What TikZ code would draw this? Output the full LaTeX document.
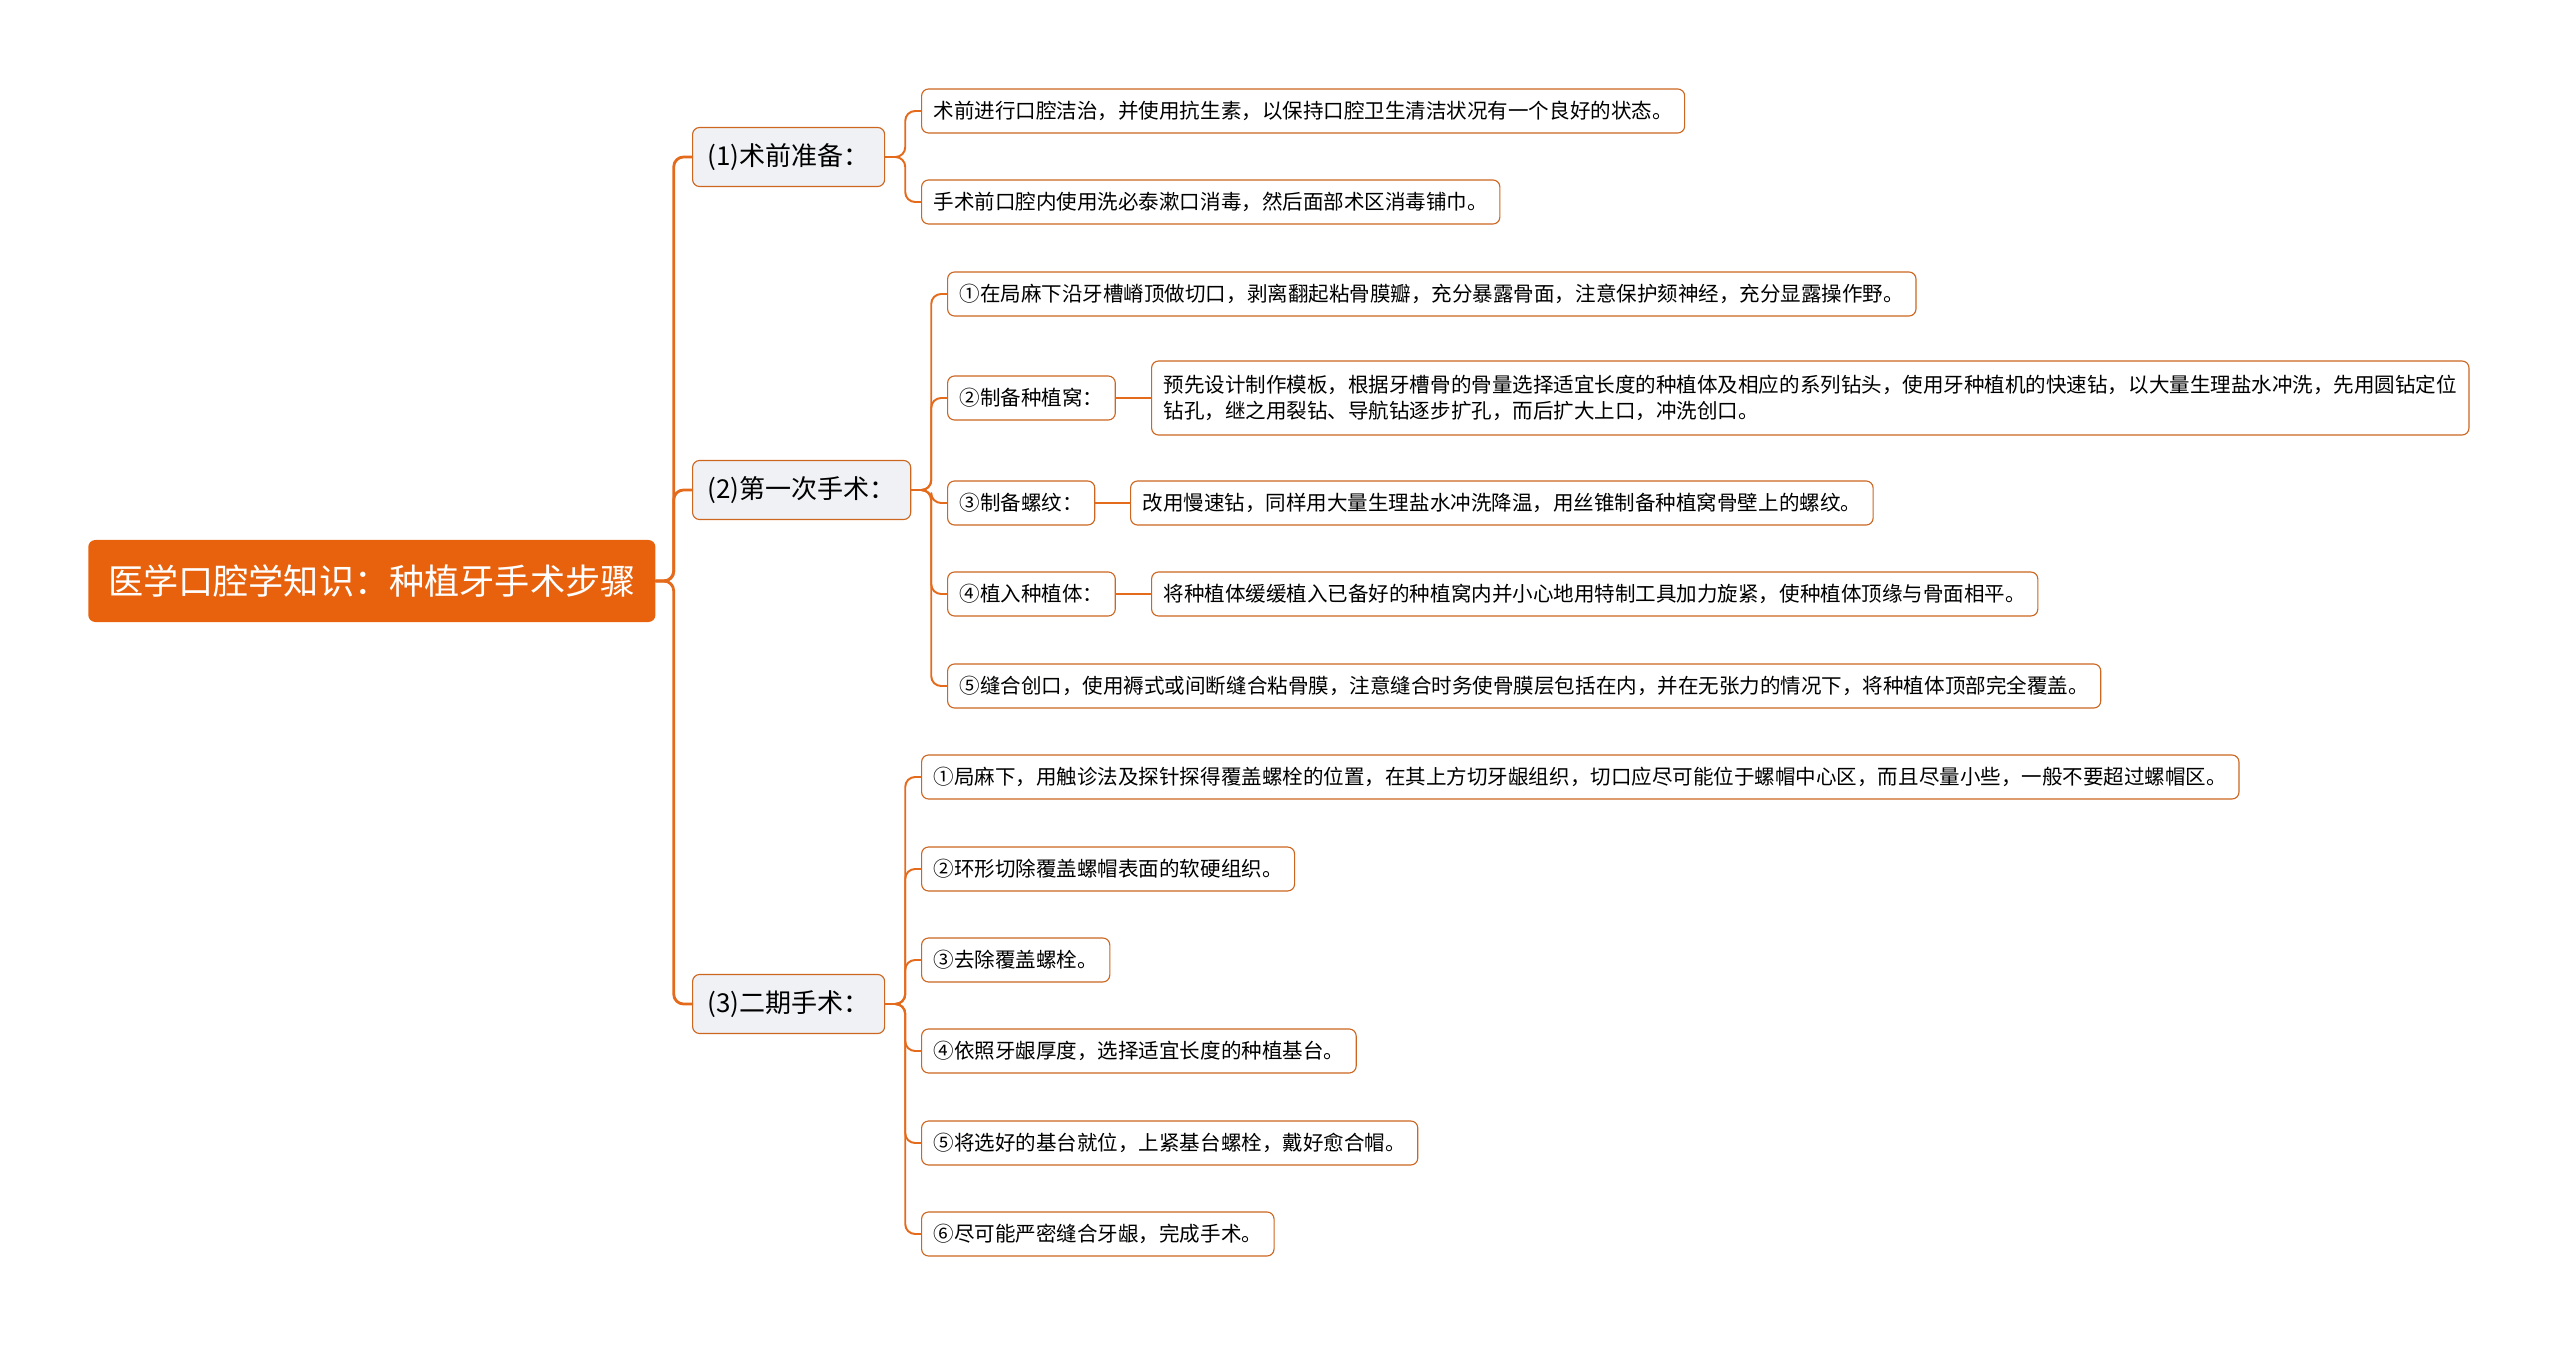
\documentclass[tikz,border=0pt]{standalone}
\usepackage{fontspec}
\setmainfont{Noto Sans CJK SC}
\definecolor{rootfill}{HTML}{E8620E}
\definecolor{linkcol}{HTML}{E46A1C}
\definecolor{boxline}{HTML}{CC6620}
\definecolor{stagefill}{HTML}{EFF1F4}
\begin{document}
\begin{tikzpicture}[x=0.025cm,y=-0.025cm,line join=round,line cap=round,
	rootbox/.style={anchor=west,fill=rootfill,rounded corners=5pt,text=white,minimum width=14.175cm,minimum height=2.05cm,font=\fontsize{25}{30}\selectfont},
	stage/.style={anchor=west,draw=boxline,line width=0.8pt,fill=stagefill,rounded corners=5pt,minimum height=1.475cm,inner xsep=0.375cm,font=\fontsize{18.5}{22}\selectfont},
	leaf/.style={anchor=west,draw=boxline,line width=0.8pt,fill=white,rounded corners=5pt,minimum height=1.1cm,inner xsep=0.3cm,align=left,font=\fontsize{14.6}{18.5}\selectfont},
	link/.style={draw=linkcol,line width=2pt,rounded corners=7pt},
	twig/.style={draw=linkcol,line width=1.4pt,rounded corners=7pt}]
	\useasboundingbox (0,0) rectangle (2560,1345);
	% root and stages
	\node[rootbox] (root) at (88,581) {医学口腔学知识：种植牙手术步骤};
	\node[stage] (pre) at (692,157) {(1)术前准备：};
	\node[stage] (first) at (692,490) {(2)第一次手术：};
	\node[stage] (second) at (692,1004) {(3)二期手术：};
	\foreach \s in {pre,first,second}
		\draw[link] (root.east) -- ++(18,0) |- (\s.west);
	% (1)
	\node[leaf] (pre1) at (921,111) {术前进行口腔洁治，并使用抗生素，以保持口腔卫生清洁状况有一个良好的状态。};
	\node[leaf] (pre2) at (921,202) {手术前口腔内使用洗必泰漱口消毒，然后面部术区消毒铺巾。};
	\foreach \c in {pre1,pre2}
		\draw[twig] (pre.east) -- ++(20,0) |- (\c.west);
	% (2)
	\node[leaf] (first1) at (947,294) {①在局麻下沿牙槽嵴顶做切口，剥离翻起粘骨膜瓣，充分暴露骨面，注意保护颏神经，充分显露操作野。};
	\node[leaf] (first2) at (947,398) {②制备种植窝：};
	\node[leaf,minimum height=1.85cm] (first2d) at (1151,398) {预先设计制作模板，根据牙槽骨的骨量选择适宜长度的种植体及相应的系列钻头，使用牙种植机的快速钻，以大量生理盐水冲洗，先用圆钻定位\\钻孔，继之用裂钻、导航钻逐步扩孔，而后扩大上口，冲洗创口。};
	\node[leaf] (first3) at (947,503) {③制备螺纹：};
	\node[leaf] (first3d) at (1130,503) {改用慢速钻，同样用大量生理盐水冲洗降温，用丝锥制备种植窝骨壁上的螺纹。};
	\node[leaf] (first4) at (947,594) {④植入种植体：};
	\node[leaf] (first4d) at (1151,594) {将种植体缓缓植入已备好的种植窝内并小心地用特制工具加力旋紧，使种植体顶缘与骨面相平。};
	\node[leaf] (first5) at (947,686) {⑤缝合创口，使用褥式或间断缝合粘骨膜，注意缝合时务使骨膜层包括在内，并在无张力的情况下，将种植体顶部完全覆盖。};
	\foreach \c in {first1,first2,first3,first4,first5}
		\draw[twig] (first.east) -- ++(20,0) |- (\c.west);
	\foreach \c in {first2,first3,first4}
		\draw[twig] (\c.east) -- (\c d.west);
	% (3)
	\node[leaf] (second1) at (921,777) {①局麻下，用触诊法及探针探得覆盖螺栓的位置，在其上方切牙龈组织，切口应尽可能位于螺帽中心区，而且尽量小些，一般不要超过螺帽区。};
	\node[leaf] (second2) at (921,869) {②环形切除覆盖螺帽表面的软硬组织。};
	\node[leaf] (second3) at (921,960) {③去除覆盖螺栓。};
	\node[leaf] (second4) at (921,1051) {④依照牙龈厚度，选择适宜长度的种植基台。};
	\node[leaf] (second5) at (921,1143) {⑤将选好的基台就位，上紧基台螺栓，戴好愈合帽。};
	\node[leaf] (second6) at (921,1234) {⑥尽可能严密缝合牙龈，完成手术。};
	\foreach \c in {second1,second2,second3,second4,second5,second6}
		\draw[twig] (second.east) -- ++(20,0) |- (\c.west);
\end{tikzpicture}
\end{document}
